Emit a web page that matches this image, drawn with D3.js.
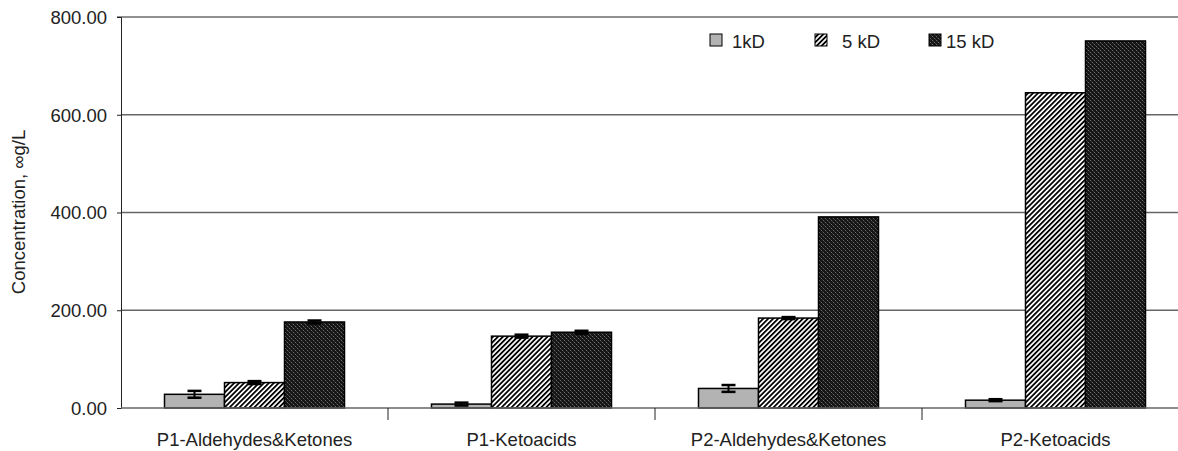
<!DOCTYPE html>
<html>
<head>
<meta charset="utf-8">
<style>
  body { margin: 0; background: #fff; }
  text { font-family: "Liberation Sans", Arial, sans-serif; fill: #222; }
</style>
</head>
<body>
<svg width="1178" height="451"></svg>
<script src="https://d3js.org/d3.v7.min.js"></script>
<script>
// data
const categories = ["P1-Aldehydes&Ketones", "P1-Ketoacids", "P2-Aldehydes&Ketones", "P2-Ketoacids"];
const series = ["1kD", "5 kD", "15 kD"];
const values1kD = [28, 8, 40, 16];
const values5kD = [52, 147, 184, 645];
const values15kD = [176, 155, 391, 751];
const err1kD = [7, 3, 7, 2];
const err5kD = [3, 3, 2, 0];
const err15kD = [3, 3, 0, 0];
const yTicks = [0, 200, 400, 600, 800];

const svg = d3.select("svg"),
    margin = {left: 121, top: 17, bottom: 408, right: 1189},
    fontSize = "18.5px";

const x = d3.scaleBand().domain(categories).range([margin.left, margin.right]);
const xs = d3.scaleBand().domain(series).range([0, x.bandwidth()]).paddingOuter(0.725);
const y = d3.scaleLinear().domain([0, 800]).range([margin.bottom, margin.top]);

// patterns
const defs = svg.append("defs");
const stripes = defs.append("pattern")
    .attr("id", "stripes")
    .attr("patternUnits", "userSpaceOnUse")
    .attr("width", 3.5).attr("height", 3.5)
    .attr("patternTransform", "rotate(45)");
stripes.append("rect").attr("width", 3.5).attr("height", 3.5).attr("fill", "#fff");
stripes.append("rect").attr("width", 1.8).attr("height", 3.5).attr("fill", "#000");

const dots = defs.append("pattern")
    .attr("id", "dots")
    .attr("patternUnits", "userSpaceOnUse")
    .attr("width", 4).attr("height", 4);
dots.append("rect").attr("width", 4).attr("height", 4).attr("fill", "#151515");
dots.append("rect").attr("x", 0).attr("y", 0).attr("width", 1).attr("height", 1).attr("fill", "#6a6a6a");
dots.append("rect").attr("x", 2).attr("y", 2).attr("width", 1).attr("height", 1).attr("fill", "#6a6a6a");
dots.append("rect").attr("x", 1).attr("y", 1).attr("width", 1).attr("height", 1).attr("fill", "#3a3a3a");
dots.append("rect").attr("x", 3).attr("y", 3).attr("width", 1).attr("height", 1).attr("fill", "#3a3a3a");

const fills = {"1kD": "#b3b3b3", "5 kD": "url(#stripes)", "15 kD": "url(#dots)"};

// gridlines
svg.append("g").selectAll("line")
  .data(yTicks.filter(d => d > 0 && d < 800))
  .join("line")
    .attr("x1", margin.left).attr("x2", 1178)
    .attr("y1", d => y(d)).attr("y2", d => y(d))
    .attr("stroke", "#666").attr("stroke-width", 1.5);

// top border
svg.append("line")
    .attr("x1", margin.left - 4).attr("x2", 1178)
    .attr("y1", y(800)).attr("y2", y(800))
    .attr("stroke", "#222").attr("stroke-width", 1);

// bars
const rows = categories.map((c, i) => ({
  cat: c,
  items: [
    {s: "1kD", v: values1kD[i], e: err1kD[i]},
    {s: "5 kD", v: values5kD[i], e: err5kD[i]},
    {s: "15 kD", v: values15kD[i], e: err15kD[i]}
  ]
}));

const groups = svg.append("g").selectAll("g")
  .data(rows)
  .join("g")
    .attr("transform", d => "translate(" + x(d.cat) + ",0)");

groups.selectAll("rect")
  .data(d => d.items)
  .join("rect")
    .attr("x", d => xs(d.s))
    .attr("y", d => y(d.v))
    .attr("width", xs.bandwidth())
    .attr("height", d => y(0) - y(d.v))
    .attr("fill", d => fills[d.s])
    .attr("stroke", "#000")
    .attr("stroke-width", 1.5);

// error bars
const eb = groups.selectAll("g.err")
  .data(d => d.items.filter(it => it.e > 0))
  .join("g").attr("class", "err");
eb.append("line")
    .attr("x1", d => xs(d.s) + xs.bandwidth() / 2).attr("x2", d => xs(d.s) + xs.bandwidth() / 2)
    .attr("y1", d => y(d.v + d.e)).attr("y2", d => y(Math.max(0, d.v - d.e)))
    .attr("stroke", "#000").attr("stroke-width", 2);
eb.selectAll("line.cap")
  .data(d => [d.v + d.e, Math.max(0, d.v - d.e)].map(v => ({s: d.s, v: v})))
  .join("line").attr("class", "cap")
    .attr("x1", d => xs(d.s) + xs.bandwidth() / 2 - 7).attr("x2", d => xs(d.s) + xs.bandwidth() / 2 + 7)
    .attr("y1", d => y(d.v)).attr("y2", d => y(d.v))
    .attr("stroke", "#000").attr("stroke-width", 2.5);

// y axis
const yAxis = svg.append("g")
    .attr("transform", "translate(" + margin.left + ",0)")
    .call(d3.axisLeft(y).tickValues(yTicks).tickFormat(d3.format(".2f")).tickSize(4).tickPadding(10));
yAxis.select(".domain").attr("stroke", "#222").attr("stroke-width", 1);
yAxis.selectAll(".tick line").attr("stroke", "#222");
yAxis.selectAll("text").style("font-size", fontSize).attr("dy", "0.35em").style("fill", "#222");

// x axis
const xAxis = svg.append("g")
    .attr("transform", "translate(0," + margin.bottom + ")")
    .call(d3.axisBottom(x).tickSize(0).tickPadding(25));
xAxis.select(".domain").remove();
xAxis.selectAll("text").style("font-size", fontSize).style("fill", "#222");
svg.append("line")
    .attr("x1", margin.left).attr("x2", 1178)
    .attr("y1", y(0)).attr("y2", y(0))
    .attr("stroke", "#666").attr("stroke-width", 1.5);
svg.append("g").selectAll("line")
  .data(categories.slice(1))
  .join("line")
    .attr("x1", d => x(d)).attr("x2", d => x(d))
    .attr("y1", y(0)).attr("y2", y(0) + 12)
    .attr("stroke", "#222").attr("stroke-width", 1);

// y label
svg.append("text")
    .attr("transform", "translate(25,212) rotate(-90)")
    .attr("text-anchor", "middle")
    .style("font-size", fontSize)
    .text("Concentration, ∞g/L");

// legend
const legendX = [710, 815, 929];
const legendTextX = [732, 842, 946];
const legend = svg.append("g").selectAll("g")
  .data(series)
  .join("g");
legend.append("rect")
    .attr("x", (d, i) => legendX[i]).attr("y", 34)
    .attr("width", 12).attr("height", 12)
    .attr("fill", d => fills[d])
    .attr("stroke", "#000").attr("stroke-width", 1);
legend.append("text")
    .attr("x", (d, i) => legendTextX[i]).attr("y", 48)
    .style("font-size", fontSize)
    .text(d => d);
</script>
</body>
</html>
